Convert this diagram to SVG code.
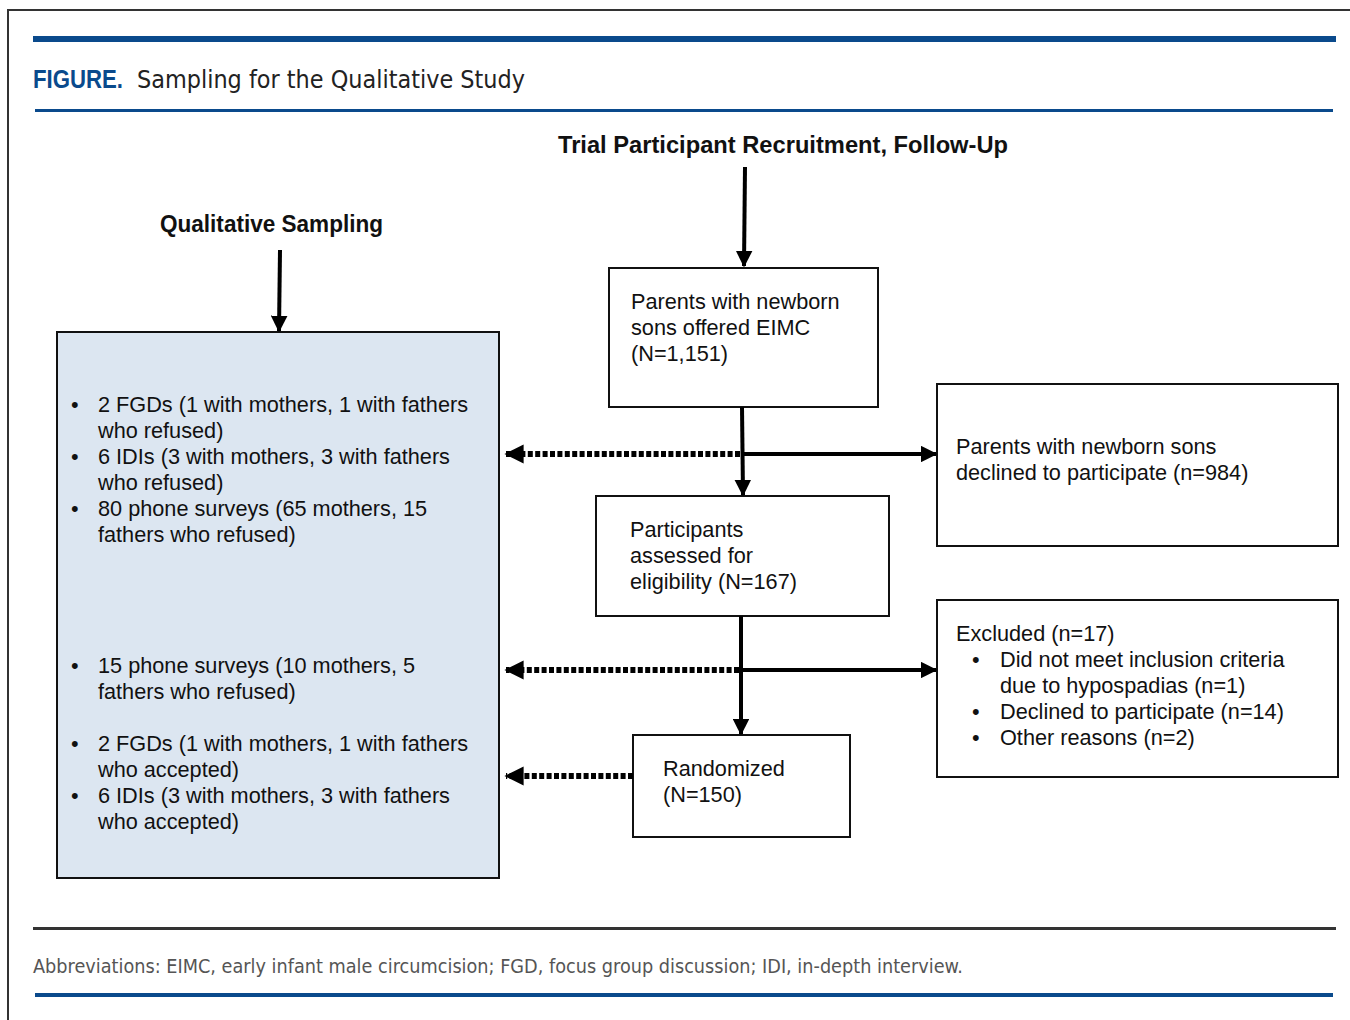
<svg xmlns="http://www.w3.org/2000/svg" width="1350" height="1020" viewBox="0 0 1350 1020">
<style>
.t{font-family:"Liberation Sans",Arial,sans-serif;font-size:21.7px;fill:#111}
.h{font-family:"Liberation Sans",Arial,sans-serif;font-size:23px;font-weight:bold;fill:#111}
.box{fill:#fff;stroke:#111;stroke-width:2}
.solid{stroke:#000;stroke-width:4;fill:none}
.dot{stroke:#000;stroke-width:6;fill:none;stroke-dasharray:5 2.4}
</style>
<defs>
<marker id="ah" viewBox="0 0 12 12" refX="11" refY="6" markerWidth="4.2" markerHeight="4.2" orient="auto" markerUnits="strokeWidth"><path d="M0,0 L12,6 L0,12 Z" fill="#000"/></marker>
<marker id="ahd" viewBox="0 0 12 12" refX="11" refY="6" markerWidth="3.2" markerHeight="3.2" orient="auto" markerUnits="strokeWidth"><path d="M0,0 L12,6 L0,12 Z" fill="#000"/></marker>
</defs>
<rect width="1350" height="1020" fill="#fff"/>
<path d="M8,1020 V10 H1350" fill="none" stroke="#333" stroke-width="2"/>
<rect x="33" y="36" width="1303" height="6" fill="#0a4a8c"/>
<text x="33" y="88" font-family="'Liberation Sans',Arial,sans-serif" font-size="26" font-weight="bold" fill="#0a4a8c" textLength="90" lengthAdjust="spacingAndGlyphs">FIGURE.</text>
<text x="137" y="88" font-family="'DejaVu Sans',sans-serif" font-size="25" fill="#222" textLength="388" lengthAdjust="spacingAndGlyphs">Sampling for the Qualitative Study</text>
<rect x="35" y="109" width="1298" height="3" fill="#0a4a8c"/>
<rect x="33" y="927" width="1303" height="3" fill="#333"/>
<text x="33" y="973" font-family="'DejaVu Sans',sans-serif" font-size="19" fill="#555" textLength="930" lengthAdjust="spacingAndGlyphs">Abbreviations: EIMC, early infant male circumcision; FGD, focus group discussion; IDI, in-depth interview.</text>
<rect x="35" y="993" width="1298" height="4" fill="#0a4a8c"/>

<g id="header-trial"><text class="h" x="558" y="153" textLength="450" lengthAdjust="spacingAndGlyphs">Trial Participant Recruitment, Follow-Up</text></g>
<g id="header-qual"><text class="h" x="160" y="232" textLength="223" lengthAdjust="spacingAndGlyphs">Qualitative Sampling</text></g>

<g id="qual-box">
<rect x="57" y="332" width="442" height="546" fill="#dce6f1" stroke="#111" stroke-width="2"/>
<g class="t">
<text x="71" y="412">•</text><text x="98" y="412">2 FGDs (1 with mothers, 1 with fathers</text>
<text x="98" y="438">who refused)</text>
<text x="71" y="464">•</text><text x="98" y="464">6 IDIs (3 with mothers, 3 with fathers</text>
<text x="98" y="490">who refused)</text>
<text x="71" y="516">•</text><text x="98" y="516">80 phone surveys (65 mothers, 15</text>
<text x="98" y="542">fathers who refused)</text>
<text x="71" y="673">•</text><text x="98" y="673">15 phone surveys (10 mothers, 5</text>
<text x="98" y="699">fathers who refused)</text>
<text x="71" y="751">•</text><text x="98" y="751">2 FGDs (1 with mothers, 1 with fathers</text>
<text x="98" y="777">who accepted)</text>
<text x="71" y="803">•</text><text x="98" y="803">6 IDIs (3 with mothers, 3 with fathers</text>
<text x="98" y="829">who accepted)</text>
</g>
</g>

<g id="offered">
<rect class="box" x="609" y="268" width="269" height="139"/>
<text class="t" x="631" y="309">Parents with newborn</text>
<text class="t" x="631" y="335">sons offered EIMC</text>
<text class="t" x="631" y="361">(N=1,151)</text>
</g>
<g id="declined">
<rect class="box" x="937" y="384" width="401" height="162"/>
<text class="t" x="956" y="454">Parents with newborn sons</text>
<text class="t" x="956" y="480">declined to participate (n=984)</text>
</g>
<g id="assessed">
<rect class="box" x="596" y="496" width="293" height="120"/>
<text class="t" x="630" y="537">Participants</text>
<text class="t" x="630" y="563">assessed for</text>
<text class="t" x="630" y="589">eligibility (N=167)</text>
</g>
<g id="excluded">
<rect class="box" x="937" y="600" width="401" height="177"/>
<text class="t" x="956" y="641">Excluded (n=17)</text>
<text class="t" x="972" y="667">•</text><text class="t" x="1000" y="667">Did not meet inclusion criteria</text>
<text class="t" x="1000" y="693">due to hypospadias (n=1)</text>
<text class="t" x="972" y="719">•</text><text class="t" x="1000" y="719">Declined to participate (n=14)</text>
<text class="t" x="972" y="745">•</text><text class="t" x="1000" y="745">Other reasons (n=2)</text>
</g>
<g id="randomized">
<rect class="box" x="633" y="735" width="217" height="102"/>
<text class="t" x="663" y="776">Randomized</text>
<text class="t" x="663" y="802">(N=150)</text>
</g>

<g id="connectors">
<line class="solid" x1="745" y1="167" x2="744" y2="266" marker-end="url(#ah)"/>
<line class="solid" x1="280" y1="250" x2="279" y2="331" marker-end="url(#ah)"/>
<line class="solid" x1="742" y1="407" x2="743" y2="495" marker-end="url(#ah)"/>
<line class="solid" x1="742" y1="454" x2="936" y2="454" marker-end="url(#ah)"/>
<line class="dot" x1="740" y1="454" x2="506" y2="454" marker-end="url(#ahd)"/>
<line class="solid" x1="741" y1="616" x2="741" y2="734" marker-end="url(#ah)"/>
<line class="solid" x1="741" y1="670" x2="936" y2="670" marker-end="url(#ah)"/>
<line class="dot" x1="739" y1="670" x2="506" y2="670" marker-end="url(#ahd)"/>
<line class="dot" x1="633" y1="776" x2="506" y2="776" marker-end="url(#ahd)"/>
</g>
</svg>
